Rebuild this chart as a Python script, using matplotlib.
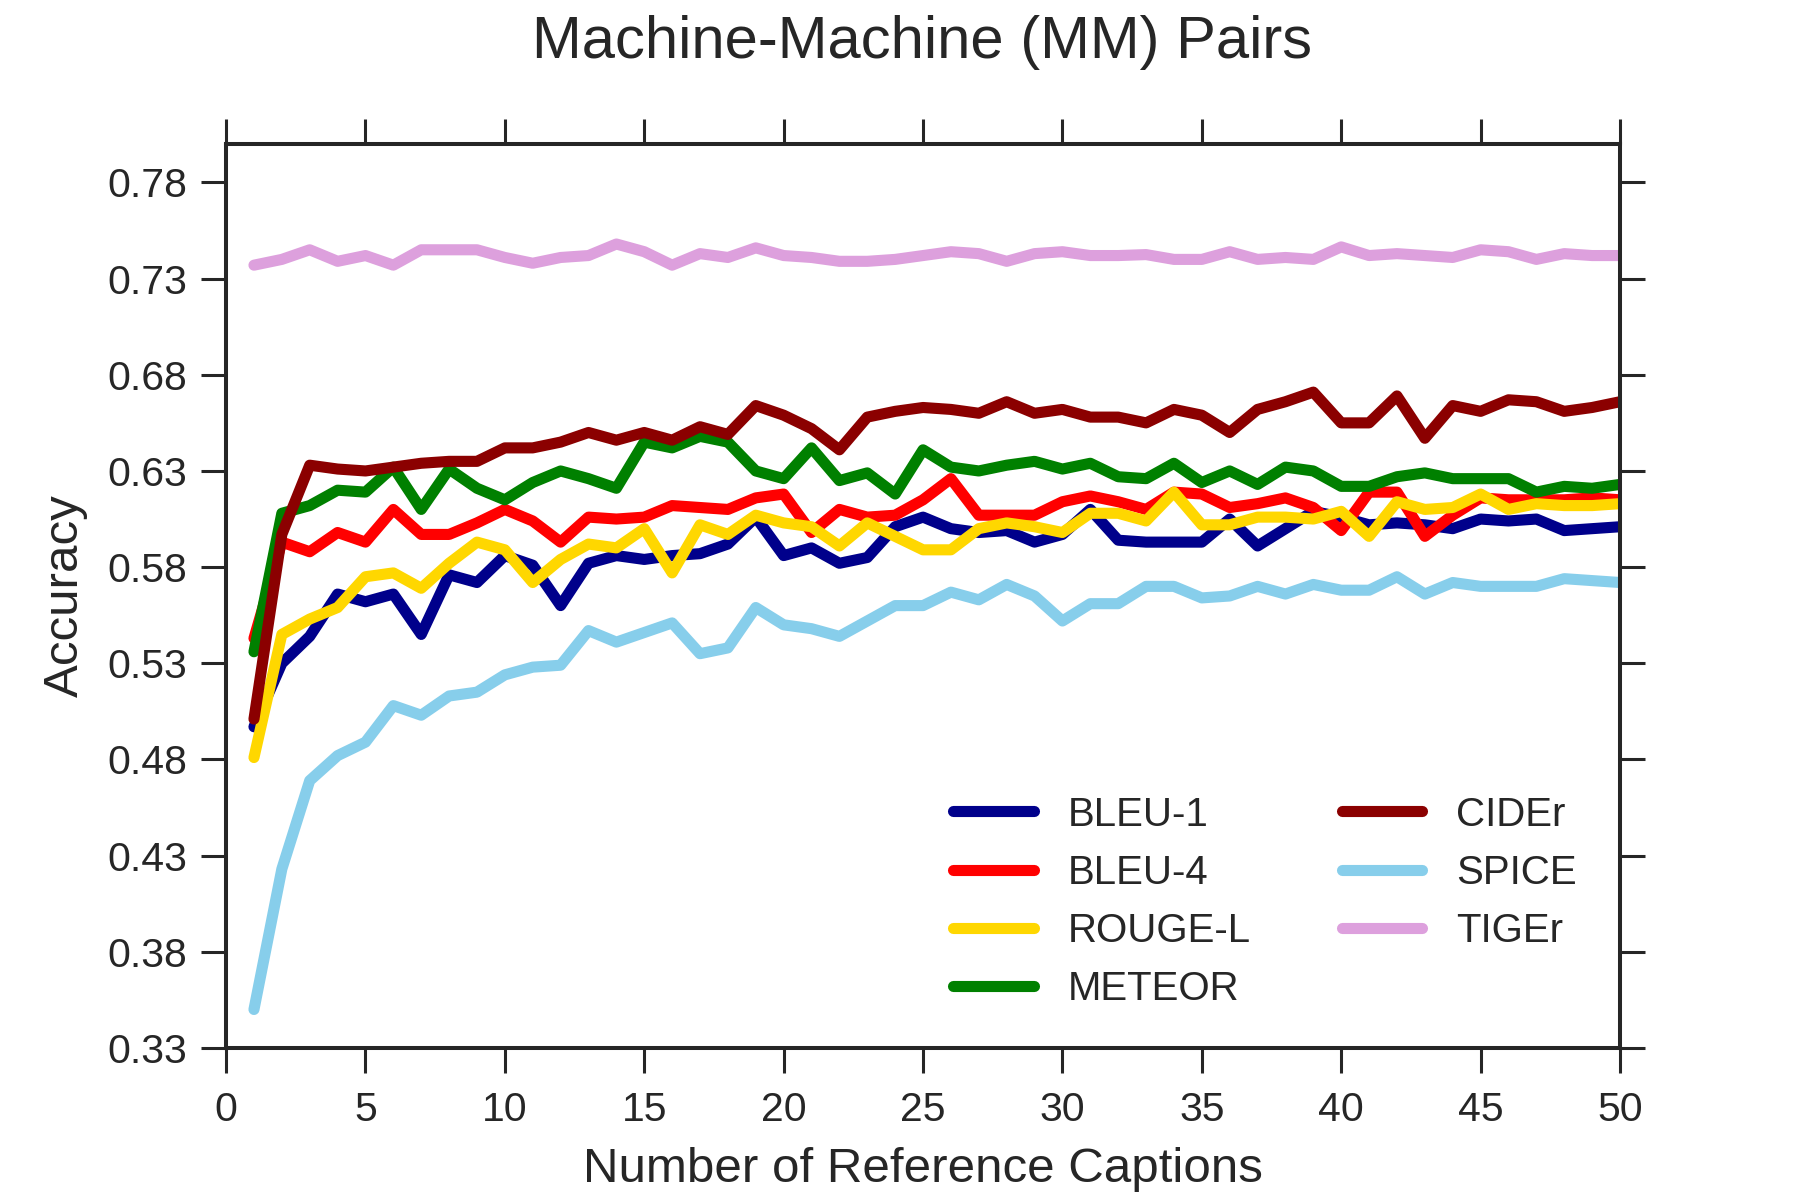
import matplotlib
matplotlib.use("Agg")
import matplotlib.pyplot as plt
import numpy as np

plt.rcParams['font.family'] = ['Liberation Sans', 'DejaVu Sans']

n_refs = list(range(1, 51))

bleu1 = [0.497, 0.530, 0.544, 0.566, 0.562, 0.566, 0.545, 0.576, 0.572, 0.586,
         0.581, 0.560, 0.582, 0.586, 0.584, 0.586, 0.587, 0.592, 0.606, 0.586,
         0.590, 0.582, 0.585, 0.601, 0.606, 0.600, 0.598, 0.599, 0.593, 0.597,
         0.610, 0.594, 0.593, 0.593, 0.593, 0.605, 0.591, 0.600, 0.609, 0.606,
         0.602, 0.603, 0.602, 0.600, 0.605, 0.604, 0.605, 0.599, 0.600, 0.601]
bleu4 = [0.543, 0.593, 0.588, 0.598, 0.593, 0.610, 0.597, 0.597, 0.603, 0.610,
         0.604, 0.593, 0.606, 0.605, 0.606, 0.612, 0.611, 0.610, 0.616, 0.618,
         0.598, 0.610, 0.606, 0.607, 0.615, 0.626, 0.607, 0.607, 0.607, 0.614,
         0.617, 0.614, 0.610, 0.619, 0.618, 0.611, 0.613, 0.616, 0.611, 0.599,
         0.619, 0.619, 0.596, 0.607, 0.616, 0.615, 0.615, 0.615, 0.616, 0.615]
rouge_l = [0.481, 0.545, 0.553, 0.559, 0.575, 0.577, 0.569, 0.582, 0.593, 0.589,
           0.572, 0.584, 0.592, 0.590, 0.600, 0.577, 0.602, 0.597, 0.607, 0.603,
           0.601, 0.591, 0.603, 0.596, 0.589, 0.589, 0.600, 0.603, 0.601, 0.598,
           0.608, 0.608, 0.604, 0.619, 0.602, 0.602, 0.606, 0.606, 0.605, 0.609,
           0.596, 0.614, 0.610, 0.611, 0.618, 0.610, 0.613, 0.612, 0.612, 0.613]
meteor = [0.536, 0.608, 0.612, 0.620, 0.619, 0.632, 0.610, 0.631, 0.621, 0.615,
          0.624, 0.630, 0.626, 0.621, 0.645, 0.642, 0.648, 0.645, 0.630, 0.626,
          0.642, 0.625, 0.629, 0.618, 0.641, 0.632, 0.630, 0.633, 0.635, 0.631,
          0.634, 0.627, 0.626, 0.634, 0.624, 0.630, 0.623, 0.632, 0.630, 0.622,
          0.622, 0.627, 0.629, 0.626, 0.626, 0.626, 0.619, 0.622, 0.621, 0.623]
cider = [0.501, 0.597, 0.633, 0.631, 0.630, 0.632, 0.634, 0.635, 0.635, 0.642,
         0.642, 0.645, 0.650, 0.646, 0.650, 0.646, 0.653, 0.649, 0.664, 0.659,
         0.652, 0.641, 0.658, 0.661, 0.663, 0.662, 0.660, 0.666, 0.660, 0.662,
         0.658, 0.658, 0.655, 0.662, 0.659, 0.650, 0.662, 0.666, 0.671, 0.655,
         0.655, 0.669, 0.647, 0.664, 0.661, 0.667, 0.666, 0.661, 0.663, 0.666]
spice = [0.350, 0.423, 0.469, 0.482, 0.489, 0.508, 0.503, 0.513, 0.515, 0.524,
         0.528, 0.529, 0.547, 0.541, 0.546, 0.551, 0.535, 0.538, 0.559, 0.550,
         0.548, 0.544, 0.552, 0.560, 0.560, 0.567, 0.563, 0.571, 0.565, 0.552,
         0.561, 0.561, 0.570, 0.570, 0.564, 0.565, 0.570, 0.566, 0.571, 0.568,
         0.568, 0.575, 0.566, 0.572, 0.570, 0.570, 0.570, 0.574, 0.573, 0.572]
tiger = [0.737, 0.740, 0.745, 0.739, 0.742, 0.737, 0.745, 0.745, 0.745, 0.741,
         0.738, 0.741, 0.742, 0.748, 0.744, 0.737, 0.743, 0.741, 0.746, 0.742,
         0.741, 0.739, 0.739, 0.740, 0.742, 0.744, 0.743, 0.739, 0.743, 0.744,
         0.742, 0.742, 0.7425, 0.740, 0.740, 0.744, 0.740, 0.741, 0.740, 0.7465,
         0.742, 0.743, 0.742, 0.741, 0.745, 0.744, 0.740, 0.743, 0.742, 0.742]

series_names = ['BLEU-1', 'BLEU-4', 'ROUGE-L', 'METEOR', 'CIDEr', 'SPICE', 'TIGEr']
series_values = [bleu1, bleu4, rouge_l, meteor, cider, spice, tiger]
series_colors = ['#00008B', '#FF0000', '#FFD700', '#008000', '#8B0000', '#87CEEB', '#DDA0DD']

x_ticks = [0, 5, 10, 15, 20, 25, 30, 35, 40, 45, 50]
y_ticks = [0.33, 0.38, 0.43, 0.48, 0.53, 0.58, 0.63, 0.68, 0.73, 0.78]

text_color = '#262626'

fig = plt.figure(figsize=(18, 12), dpi=100)
ax = fig.add_axes([0.1256, 0.1267, 0.7744, 0.7533])

for name, vals, col in zip(series_names, series_values, series_colors):
    ax.plot(n_refs, vals, color=col, lw=8, label=name, solid_capstyle='round')

ax.set_xlim(0, 50)
ax.set_ylim(0.33, 0.80)
ax.set_xticks(x_ticks)
ax.set_yticks(y_ticks)
ax.set_yticklabels([f'{v:.2f}' for v in y_ticks])

for s in ax.spines.values():
    s.set_linewidth(2.9)
    s.set_color(text_color)

ax.tick_params(axis='both', which='major', direction='out', length=18, width=2.2,
               color=text_color, labelcolor=text_color, labelsize=29.5,
               top=True, right=True)
ax.tick_params(axis='y', pad=10)
ax.tick_params(axis='x', pad=13)

ax.set_xlabel('Number of Reference Captions', fontsize=35.5, color=text_color, labelpad=13)
ax.set_ylabel('Accuracy', fontsize=35.5, color=text_color, labelpad=14)

fig.text(0.5123, 0.965, 'Machine-Machine (MM) Pairs', fontsize=43, color=text_color,
         ha='center', va='center')

leg = ax.legend(ncol=2, loc='upper left', bbox_to_anchor=(0.510, 0.297),
                borderaxespad=0, frameon=False, fontsize=29, handlelength=2.0,
                handletextpad=0.85, columnspacing=2.25, labelspacing=0.5)
for t in leg.get_texts():
    t.set_color(text_color)

fig.savefig('out.png', dpi=100, facecolor='white')
